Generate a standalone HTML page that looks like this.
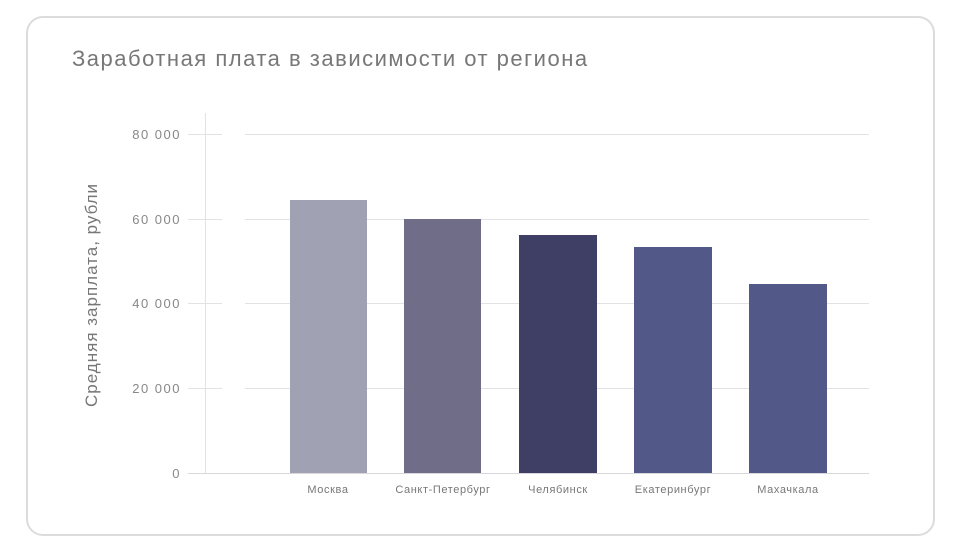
<!DOCTYPE html>
<html><head><meta charset="utf-8"><style>
body{margin:0;background:#fff;width:960px;height:550px;overflow:hidden;font-family:"Liberation Sans","DejaVu Sans",sans-serif}
</style></head><body>
<svg width="960" height="550" xmlns="http://www.w3.org/2000/svg">
<rect x="27" y="17" width="907" height="518" rx="16" fill="#fff" stroke="#dcdcdc" stroke-width="2"/>
<text x="72" y="66" font-size="22" fill="#777" letter-spacing="1.5" font-family="Liberation Sans, sans-serif">Заработная плата в зависимости от региона</text>
<g stroke="#e2e2e6" stroke-width="1">
<line x1="188" y1="134.5" x2="222" y2="134.5"/><line x1="245" y1="134.5" x2="869" y2="134.5"/>
<line x1="188" y1="219.5" x2="222" y2="219.5"/><line x1="245" y1="219.5" x2="869" y2="219.5"/>
<line x1="188" y1="303.5" x2="222" y2="303.5"/><line x1="245" y1="303.5" x2="869" y2="303.5"/>
<line x1="188" y1="388.5" x2="222" y2="388.5"/><line x1="245" y1="388.5" x2="869" y2="388.5"/>
<line x1="205.5" y1="113" x2="205.5" y2="473"/>
</g>
<line x1="188" y1="473.5" x2="869" y2="473.5" stroke="#d8d8dc"/>
<g font-size="13" fill="#888" text-anchor="end" letter-spacing="1.5">
<text x="181" y="139">80 000</text><text x="181" y="224">60 000</text><text x="181" y="308">40 000</text><text x="181" y="393">20 000</text><text x="181" y="478">0</text>
</g>
<text transform="translate(97,295) rotate(-90)" font-size="17" fill="#777" text-anchor="middle" letter-spacing="1">Средняя зарплата, рубли</text>
<rect x="290" y="200" width="77" height="273" fill="#a0a1b2"/>
<rect x="404" y="219" width="77" height="254" fill="#706d89"/>
<rect x="519" y="235" width="78" height="238" fill="#3f3f65"/>
<rect x="634" y="247" width="78" height="226" fill="#525888"/>
<rect x="749" y="284" width="78" height="189" fill="#525888"/>
<g font-size="11" fill="#777" text-anchor="middle" letter-spacing="0.6">
<text x="328" y="493">Москва</text><text x="443" y="493">Санкт-Петербург</text><text x="558" y="493">Челябинск</text><text x="673" y="493">Екатеринбург</text><text x="788" y="493">Махачкала</text>
</g>
</svg>
</body></html>
